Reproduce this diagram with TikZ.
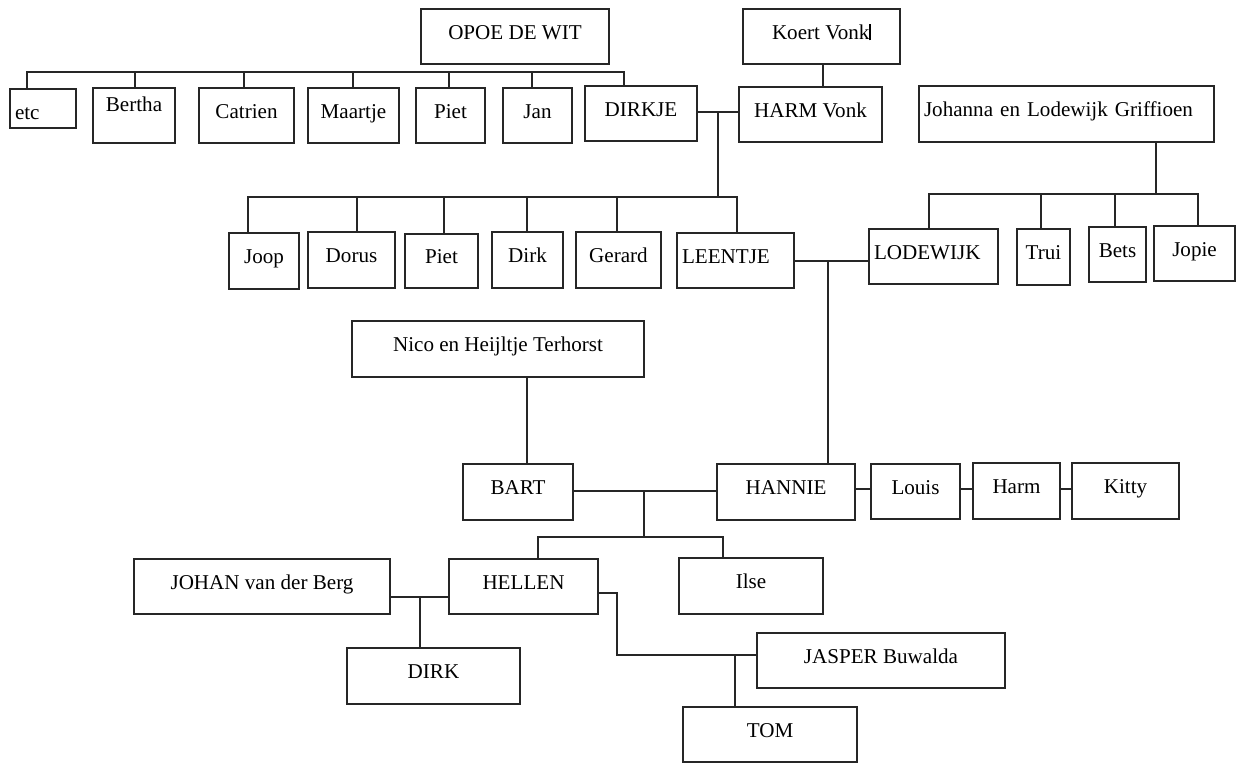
\documentclass[tikz,border=0pt]{standalone}
\usepackage{fontspec}
\setmainfont{Liberation Serif}
\def\persoon[#1](#2)(#3,#4,#5,#6)#7{\node[box,minimum width={(#5-#3)*0.02cm},minimum height={(#6-#4)*0.02cm},#1] (#2) at ({(#3+#5)/2},{(#4+#6)/2}) {#7};}
\tikzset{
  box/.style={draw=black!85, line width=0.7pt, inner sep=0pt, font=\fontsize{12}{14}\selectfont, text height=8.4pt, text depth=5pt},
  links/.style={align=left},
  lijn/.style={draw=black!85, line width=0.6pt},
}

\begin{document}
\begin{tikzpicture}[x=0.02cm, y=-0.02cm]
			%%%%% START %%%%%
			\useasboundingbox (0,0) rectangle (1246,764);
			
			\persoon[](opoe)(421,9,609,64){OPOE DE WIT}
			\persoon[](koert)(743,9,900,64){Koert Vonk\rule[-0.5pt]{0.9pt}{9.5pt}}
			
			\persoon[links, text width=1.12cm, text height=16pt, text depth=3.5pt](etc)(10,89,76,128){etc}
			\persoon[text depth=13.5pt](bertha)(93,88,175,143){Bertha}
			\persoon[](catrien)(199,88,294,143){Catrien}
			\persoon[](maartje)(308,88,399,143){Maartje}
			\persoon[](pietA)(416,88,485,143){Piet}
			\persoon[](jan)(503,88,572,143){Jan}
			\persoon[](dirkje)(585,86,697,141){DIRKJE}
			\persoon[](harm)(739,87,882,142){HARM Vonk}
			\persoon[links, text width=5.7cm](johanna)(919,86,1214,142){Johanna en Lodewijk Griffioen}
			
			\persoon[](joop)(229,233,299,289){Joop}
			\persoon[](dorus)(308,232,395,288){Dorus}
			\persoon[](pietB)(405,234,478,288){Piet}
			\persoon[](dirk)(492,232,563,288){Dirk}
			\persoon[](gerard)(576,232,661,288){Gerard}
			\persoon[links, text width=2.14cm](leentje)(677,233,794,288){LEENTJE}
			
			\persoon[links, text width=2.38cm](lodewijk)(869,229,998,284){LODEWIJK}
			\persoon[](trui)(1017,229,1070,285){Trui}
			\persoon[](bets)(1089,227,1146,282){Bets}
			\persoon[](jopie)(1154,226,1235,281){Jopie}
			
			\persoon[](nico)(352,321,644,377){Nico en Heijltje Terhorst}
			\persoon[](bart)(463,464,573,520){BART}
			\persoon[](hannie)(717,464,855,520){HANNIE}
			\persoon[](louis)(871,464,960,519){Louis}
			\persoon[](harmK)(973,463,1060,519){Harm}
			\persoon[](kitty)(1072,463,1179,519){Kitty}
			
			\persoon[](johan)(134,559,390,614){JOHAN van der Berg}
			\persoon[](hellen)(449,559,598,614){HELLEN}
			\persoon[](ilse)(679,558,823,614){Ilse}
			\persoon[](dirkH)(347,648,520,704){DIRK}
			\persoon[](jasper)(757,633,1005,688){JASPER Buwalda}
			\persoon[](tom)(683,707,857,762){TOM}
			
			% kinderen van opoe
			\draw[lijn] (27,72 |- etc.north) -- (27,72) -- (624,72) -- (624,72 |- dirkje.north);
			\foreach \k/\x in {bertha/135,catrien/244,maartje/353,pietA/449,jan/532}
				\draw[lijn] (\x,72) -- (\x,72 |- \k.north);
			
			% dirkje en harm
			\draw[lijn] (koert.south -| 823,0) -- (harm.north -| 823,0);
			\draw[lijn] (dirkje.east |- 0,112) -- (harm.west |- 0,112);
			\draw[lijn] (718,112) -- (718,197);
			\draw[lijn] (248,197 |- joop.north) -- (248,197) -- (737,197) -- (737,197 |- leentje.north);
			\foreach \k/\x in {dorus/357,pietB/444,dirk/527,gerard/617}
				\draw[lijn] (\x,197) -- (\x,197 |- \k.north);
			
			% griffioen
			\draw[lijn] (johanna.south -| 1156,0) -- (1156,194);
			\draw[lijn] (929,194 |- lodewijk.north) -- (929,194) -- (1198,194) -- (1198,194 |- jopie.north);
			\foreach \k/\x in {trui/1041,bets/1115}
				\draw[lijn] (\x,194) -- (\x,194 |- \k.north);
			
			% leentje en lodewijk
			\draw[lijn] (leentje.east |- 0,261) -- (lodewijk.west |- 0,261);
			\draw[lijn] (828,261) -- (hannie.north -| 828,0);
			
			% bart en hannie
			\draw[lijn] (nico.south -| 527,0) -- (bart.north -| 527,0);
			\draw[lijn] (bart.east |- 0,491) -- (hannie.west |- 0,491);
			\draw[lijn] (644,491) -- (644,537);
			\draw[lijn] (538,537 |- hellen.north) -- (538,537) -- (723,537) -- (723,537 |- ilse.north);
			\draw[lijn] (hannie.east |- 0,489) -- (louis.west |- 0,489);
			\draw[lijn] (louis.east |- 0,489) -- (harmK.west |- 0,489);
			\draw[lijn] (harmK.east |- 0,489) -- (kitty.west |- 0,489);
			
			% hellen
			\draw[lijn] (johan.east |- 0,597) -- (hellen.west |- 0,597);
			\draw[lijn] (420,597) -- (dirkH.north -| 420,0);
			\draw[lijn] (hellen.east |- 0,593) -- (617,593) -- (617,655) -- (jasper.west |- 0,655);
			\draw[lijn] (735,655) -- (tom.north -| 735,0);
			
			%%%%% END %%%%%
\end{tikzpicture}
\end{document}
